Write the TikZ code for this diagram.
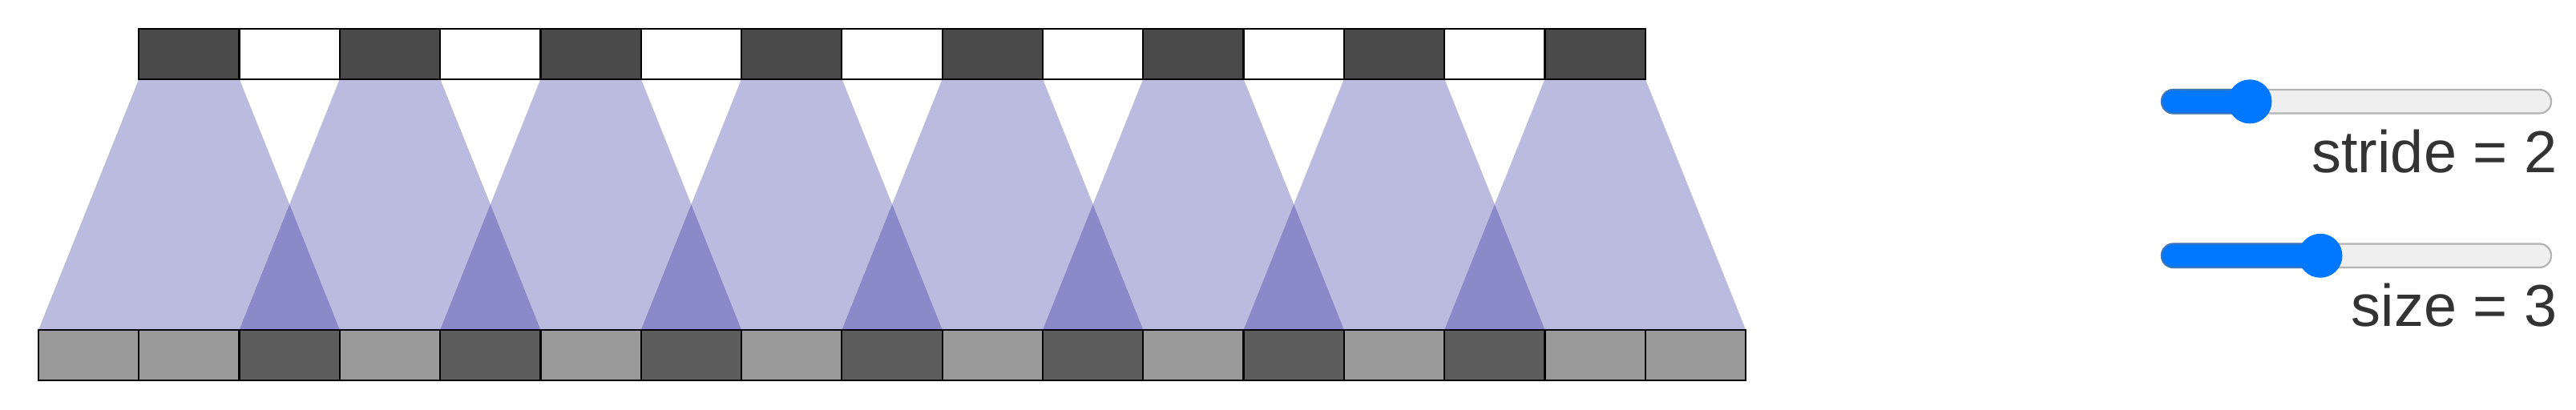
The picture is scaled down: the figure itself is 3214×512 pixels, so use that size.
\documentclass[tikz,border=0pt]{standalone}
\usepackage{fontspec}
\setmainfont{Liberation Sans}
\usetikzlibrary{backgrounds}
\definecolor{topdark}{HTML}{4A4A4A}
\definecolor{botlight}{HTML}{9A9A9A}
\definecolor{botdark}{HTML}{5D5D5D}
\definecolor{field}{RGB}{12,12,141}
\definecolor{knobblue}{HTML}{0077FF}
\definecolor{trackfill}{HTML}{EFEFEF}
\definecolor{trackline}{HTML}{B3B3B3}
\definecolor{activeline}{HTML}{3A76BE}
\definecolor{labeltext}{HTML}{333333}
\begin{document}
\begin{tikzpicture}[x=0.01cm,y=-0.01cm,
  cell/.style={shape=rectangle, draw=black, line width=0.022cm,
    minimum width=1.253cm, minimum height=0.63cm, inner sep=0pt, outer sep=0pt},
  fieldfill/.style={fill=field, fill opacity=0.28},
  track/.style={fill=trackfill, draw=trackline, line width=0.022cm, rounded corners=0.145cm},
  activetrack/.style={fill=knobblue, draw=activeline, line width=0.022cm, rounded corners=0.145cm},
  knobdot/.style={fill=knobblue},
  sliderlabel/.style={anchor=base east, inner sep=0pt, text=labeltext,
    font=\fontsize{21pt}{25pt}\selectfont}]
\useasboundingbox (0,0) rectangle (3214,512);
% bottom (input) row
\foreach \i/\c in {0/botlight,1/botlight,2/botdark,3/botlight,4/botdark,5/botlight,
  6/botdark,7/botlight,8/botdark,9/botlight,10/botdark,11/botlight,12/botdark,
  13/botlight,14/botdark,15/botlight,16/botlight}
  \node[cell, fill=\c] (b\i) at ({48+125.3*(\i+0.5)},443.5) {};
% top (output) row
\foreach \j/\c in {0/topdark,1/white,2/topdark,3/white,4/topdark,5/white,6/topdark,
  7/white,8/topdark,9/white,10/topdark,11/white,12/topdark,13/white,14/topdark}
  \node[cell, fill=\c] (t\j) at ({48+125.3*(\j+1.5)},67.2) {};
% receptive fields
\begin{scope}[on background layer]
  \fill[white] (0,0) rectangle (3214,512);
  \foreach \k in {0,...,7} {
    \pgfmathtruncatemacro\a{2*\k}
    \pgfmathtruncatemacro\b{2*\k+2}
    \fill[fieldfill] (t\a.south west) -- (t\a.south east) -- (b\b.north east) -- (b\a.north west) -- cycle;
  }
\end{scope}
% slider: stride
\draw[track] (2697,112) rectangle (3183,141.5);
\draw[activetrack] (2697,112) rectangle (2830,141.5);
\fill[knobdot] (2807,126.8) circle[radius=27.5];
\node[sliderlabel] (stridelabel) at (3191,215.5) {stride = 2};
% slider: size
\draw[track] (2697,304.5) rectangle (3183,334);
\draw[activetrack] (2697,304.5) rectangle (2915,334);
\fill[knobdot] (2895,319.3) circle[radius=27.5];
\node[sliderlabel] (sizelabel) at (3191,407.5) {size = 3};
\end{tikzpicture}
\end{document}
